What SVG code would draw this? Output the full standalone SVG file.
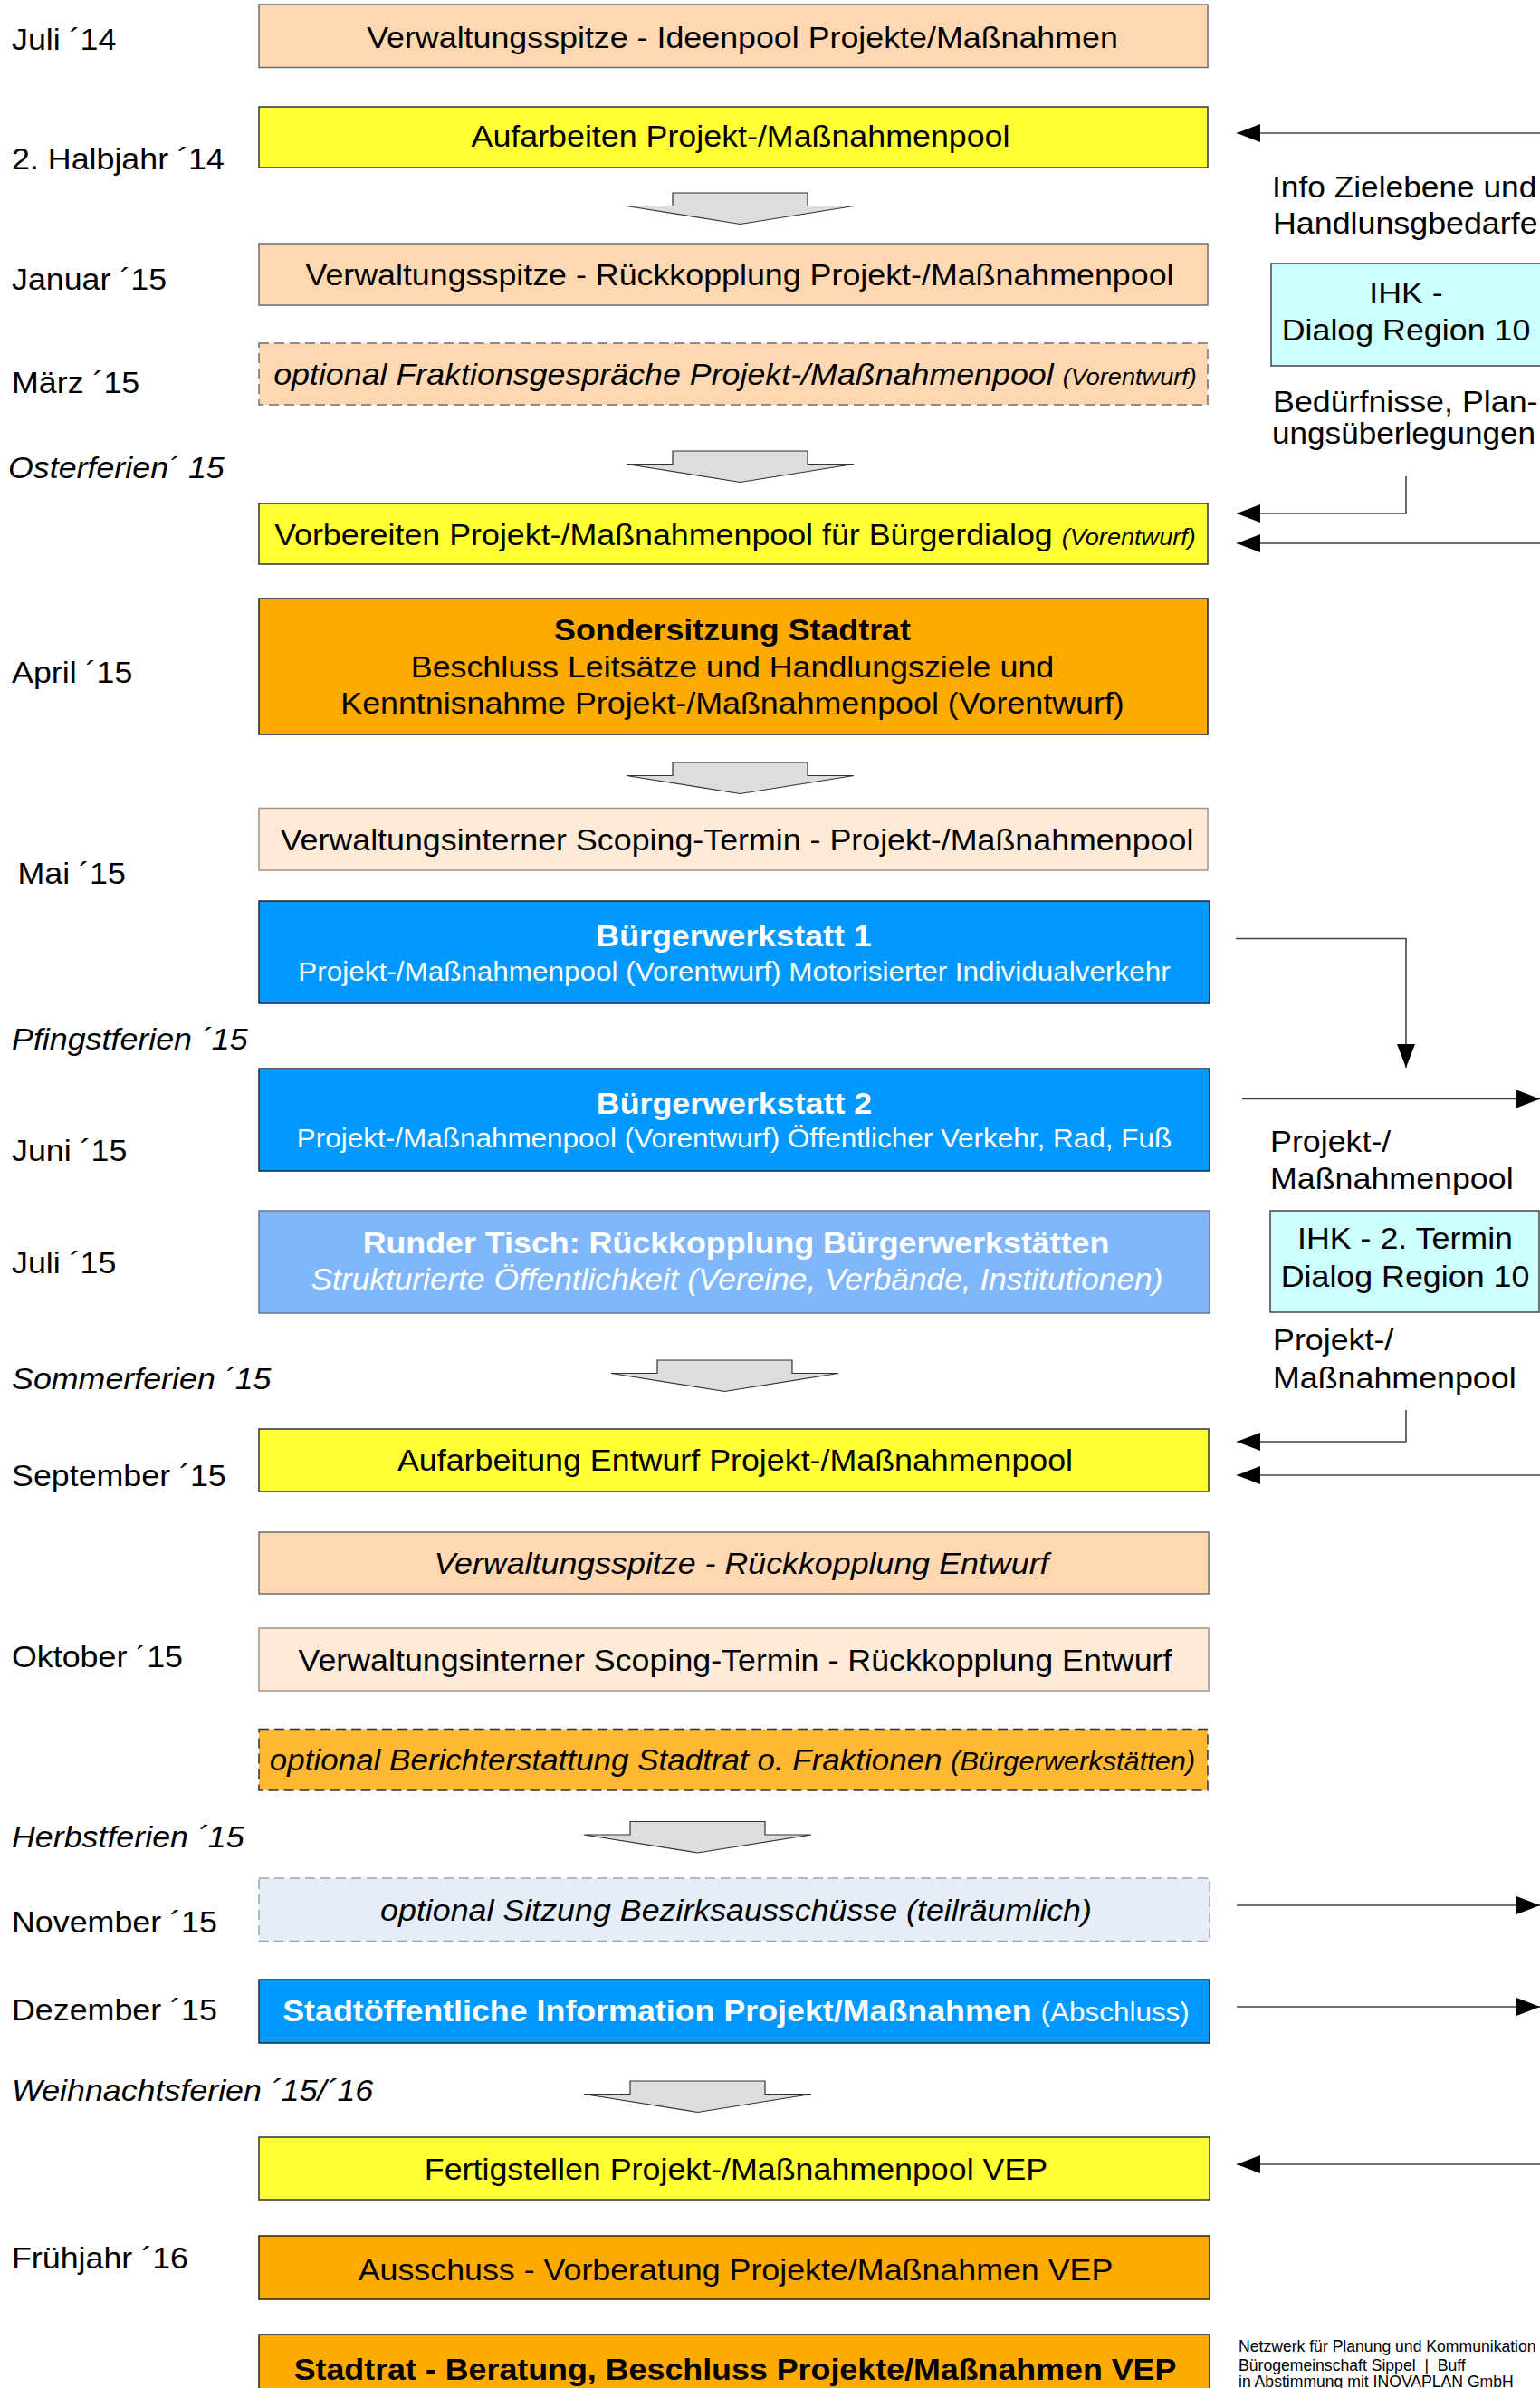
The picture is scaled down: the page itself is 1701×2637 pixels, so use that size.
<svg xmlns="http://www.w3.org/2000/svg" width="1701" height="2637" viewBox="0 0 1701 2637">
<style>
.t{font-family:"Liberation Sans",Arial,Helvetica,sans-serif;font-size:33px;text-anchor:middle;fill:#000}
.l{text-anchor:start}
.i{font-style:italic}
.b{font-weight:bold}
.w{fill:#fff}
.s{font-size:29px}
.xs{font-size:25px}
.ft{font-family:"Liberation Sans",Arial,Helvetica,sans-serif;font-size:17.6px;fill:#000}
.box{stroke-width:1.5}
.peach{fill:#FFD8B1;stroke:#6E6E6E}
.lpeach{fill:#FEEAD6;stroke:#A09488}
.yellow{fill:#FFFF33;stroke:#333}
.orange{fill:#FFAA00;stroke:#222}
.blue{fill:#0099FF;stroke:#1E2A38}
.lblue{fill:#80B7FA;stroke:#6A7888}
.cyan{fill:#CCFFFF;stroke:#444}
.dash{stroke-dasharray:11 6}
.obright{fill:#FFB833;stroke:#333}
.bez{fill:#E4EDF8;stroke:#9AA4B0}
.conn path{fill:none;stroke:#444;stroke-width:1.6;marker-end:url(#ah)}
</style>
<defs>
<marker id="ah" markerWidth="26" markerHeight="20" refX="26" refY="10" orient="auto" markerUnits="userSpaceOnUse"><path d="M0 0L26 10L0 20Z" fill="#000"/></marker>
<path id="dn" d="M-74.5 0H74.5V14.5H125.5L0 34.5L-125.5 14.5H-74.5Z" fill="#DDDDDD" stroke="#333" stroke-width="1.2"/>
</defs>
<rect width="1701" height="2637" fill="#fff"/>

<g id="labels">
<text class="t l" transform="translate(13 55) scale(1.085 1)">Juli ´14</text>
<text class="t l" transform="translate(13 186.5) scale(1.085 1)">2. Halbjahr ´14</text>
<text class="t l" transform="translate(13 320) scale(1.085 1)">Januar ´15</text>
<text class="t l" transform="translate(13 433.5) scale(1.085 1)">März ´15</text>
<text class="t l i" transform="translate(9 528) scale(1.085 1)">Osterferien´ 15</text>
<text class="t l" transform="translate(13 753.5) scale(1.085 1)">April ´15</text>
<text class="t l" transform="translate(19.5 975.5) scale(1.085 1)">Mai ´15</text>
<text class="t l i" transform="translate(13 1158.5) scale(1.085 1)">Pfingstferien ´15</text>
<text class="t l" transform="translate(13 1282) scale(1.085 1)">Juni ´15</text>
<text class="t l" transform="translate(13 1405.5) scale(1.085 1)">Juli ´15</text>
<text class="t l i" transform="translate(13 1534) scale(1.085 1)">Sommerferien ´15</text>
<text class="t l" transform="translate(13 1641) scale(1.085 1)">September ´15</text>
<text class="t l" transform="translate(13 1841) scale(1.085 1)">Oktober ´15</text>
<text class="t l i" transform="translate(13 2040) scale(1.085 1)">Herbstferien ´15</text>
<text class="t l" transform="translate(13 2134) scale(1.085 1)">November ´15</text>
<text class="t l" transform="translate(13 2231) scale(1.085 1)">Dezember ´15</text>
<text class="t l i" transform="translate(13 2320) scale(1.085 1)">Weihnachtsferien ´15/´16</text>
<text class="t l" transform="translate(13 2504.5) scale(1.085 1)">Frühjahr ´16</text>
</g>

<g id="flow-arrows">
<use href="#dn" transform="translate(817.5 213)"/>
<use href="#dn" transform="translate(817.5 498)"/>
<use href="#dn" transform="translate(817.5 842)"/>
<use href="#dn" transform="translate(800.5 1502)"/>
<use href="#dn" transform="translate(770.5 2011.5)"/>
<use href="#dn" transform="translate(770.5 2298)"/>
</g>

<g id="n1"><rect class="box peach" x="286" y="5" width="1048" height="69.5"/>
<text class="t" transform="translate(820 52.5) scale(1.085 1)">Verwaltungsspitze - Ideenpool Projekte/Maßnahmen</text></g>

<g id="n2"><rect class="box yellow" x="286" y="118" width="1048" height="67"/>
<text class="t" transform="translate(818 162) scale(1.085 1)">Aufarbeiten Projekt-/Maßnahmenpool</text></g>

<g id="n3"><rect class="box peach" x="286" y="269" width="1048" height="68"/>
<text class="t" transform="translate(817 315) scale(1.085 1)">Verwaltungsspitze - Rückkopplung Projekt-/Maßnahmenpool</text></g>

<g id="n4"><rect class="box peach dash" x="286" y="379" width="1048" height="68"/>
<text class="t i" transform="translate(812 425) scale(1.085 1)">optional Fraktionsgespräche Projekt-/Maßnahmenpool <tspan class="xs">(Vorentwurf)</tspan></text></g>

<g id="n5"><rect class="box yellow" x="286" y="556" width="1048" height="67"/>
<text class="t" transform="translate(812 601.5) scale(1.085 1)">Vorbereiten Projekt-/Maßnahmenpool für Bürgerdialog <tspan class="xs i">(Vorentwurf)</tspan></text></g>

<g id="n6"><rect class="box orange" x="286" y="661" width="1048" height="150"/>
<text class="t b" transform="translate(809 707) scale(1.085 1)">Sondersitzung Stadtrat</text>
<text class="t" transform="translate(809 747.5) scale(1.085 1)">Beschluss Leitsätze und Handlungsziele und</text>
<text class="t" transform="translate(809 788) scale(1.085 1)">Kenntnisnahme Projekt-/Maßnahmenpool (Vorentwurf)</text></g>

<g id="n7"><rect class="box lpeach" x="286" y="892.5" width="1048" height="68.5"/>
<text class="t" transform="translate(814 939) scale(1.085 1)">Verwaltungsinterner Scoping-Termin - Projekt-/Maßnahmenpool</text></g>

<g id="n8"><rect class="box blue" x="286" y="995" width="1050" height="113"/>
<text class="t b w" transform="translate(810.5 1045) scale(1.085 1)">Bürgerwerkstatt 1</text>
<text class="t s w" transform="translate(811 1082.5) scale(1.085 1)">Projekt-/Maßnahmenpool (Vorentwurf) Motorisierter Individualverkehr</text></g>

<g id="n9"><rect class="box blue" x="286" y="1180" width="1050" height="113"/>
<text class="t b w" transform="translate(811 1229.5) scale(1.085 1)">Bürgerwerkstatt 2</text>
<text class="t s w" transform="translate(811 1267) scale(1.085 1)">Projekt-/Maßnahmenpool (Vorentwurf) Öffentlicher Verkehr, Rad, Fuß</text></g>

<g id="n10"><rect class="box lblue" x="286" y="1337" width="1050" height="113"/>
<text class="t b w" transform="translate(813 1384) scale(1.085 1)">Runder Tisch: Rückkopplung Bürgerwerkstätten</text>
<text class="t i w" transform="translate(814 1424) scale(1.07 1)">Strukturierte Öffentlichkeit (Vereine, Verbände, Institutionen)</text></g>

<g id="n11"><rect class="box yellow" x="286" y="1578" width="1049" height="69"/>
<text class="t" transform="translate(812 1624) scale(1.085 1)">Aufarbeitung Entwurf Projekt-/Maßnahmenpool</text></g>

<g id="n12"><rect class="box peach" x="286" y="1692" width="1049" height="68"/>
<text class="t i" transform="translate(819 1738) scale(1.085 1)">Verwaltungsspitze - Rückkopplung Entwurf</text></g>

<g id="n13"><rect class="box lpeach" x="286" y="1798" width="1049" height="69"/>
<text class="t" transform="translate(812 1844.5) scale(1.085 1)">Verwaltungsinterner Scoping-Termin - Rückkopplung Entwurf</text></g>

<g id="n14"><rect class="box obright dash" x="286" y="1909.5" width="1048" height="67.5"/>
<text class="t i" transform="translate(809 1955) scale(1.06 1)">optional Berichterstattung Stadtrat o. Fraktionen <tspan class="s">(Bürgerwerkstätten)</tspan></text></g>

<g id="n15"><rect class="box bez dash" x="286" y="2074" width="1050" height="69.5"/>
<text class="t i" transform="translate(813 2120.5) scale(1.085 1)">optional Sitzung Bezirksausschüsse (teilräumlich)</text></g>

<g id="n16"><rect class="box blue" x="286" y="2186" width="1050" height="70"/>
<text class="t w" transform="translate(813 2232) scale(1.085 1)"><tspan class="b">Stadtöffentliche Information Projekt/Maßnahmen</tspan> <tspan class="s">(Abschluss)</tspan></text></g>

<g id="n17"><rect class="box yellow" x="286" y="2360" width="1050" height="69"/>
<text class="t" transform="translate(813 2406.5) scale(1.085 1)">Fertigstellen Projekt-/Maßnahmenpool VEP</text></g>

<g id="n18"><rect class="box orange" x="286" y="2469" width="1050" height="70"/>
<text class="t" transform="translate(812.5 2518) scale(1.085 1)">Ausschuss - Vorberatung Projekte/Maßnahmen VEP</text></g>

<g id="n19"><rect class="box orange" x="286" y="2578" width="1050" height="90"/>
<text class="t b" transform="translate(812 2628) scale(1.085 1)">Stadtrat - Beratung, Beschluss Projekte/Maßnahmen VEP</text></g>

<g id="ihk1"><rect class="box cyan" x="1404" y="291" width="300" height="113"/>
<text class="t" transform="translate(1553 335) scale(1.085 1)">IHK -</text>
<text class="t" transform="translate(1553 376) scale(1.085 1)">Dialog Region 10</text></g>

<g id="ihk2"><rect class="box cyan" x="1403" y="1337" width="297" height="112"/>
<text class="t" transform="translate(1552 1379) scale(1.085 1)">IHK - 2. Termin</text>
<text class="t" transform="translate(1552 1421) scale(1.085 1)">Dialog Region 10</text></g>

<g id="conn-labels">
<text class="t l" transform="translate(1405 218) scale(1.07 1)">Info Zielebene und</text>
<text class="t l" transform="translate(1406 258) scale(1.085 1)">Handlunsgbedarfe</text>
<text class="t l" transform="translate(1406 455) scale(1.085 1)">Bedürfnisse, Plan-</text>
<text class="t l" transform="translate(1405 490) scale(1.065 1)">ungsüberlegungen</text>
<text class="t l" transform="translate(1403 1272) scale(1.085 1)">Projekt-/</text>
<text class="t l" transform="translate(1403 1313) scale(1.085 1)">Maßnahmenpool</text>
<text class="t l" transform="translate(1406 1491) scale(1.085 1)">Projekt-/</text>
<text class="t l" transform="translate(1406 1533) scale(1.085 1)">Maßnahmenpool</text>
</g>

<g id="connectors" class="conn">
<path d="M1701 147H1366"/>
<path d="M1553 526V567H1366"/>
<path d="M1701 600H1366"/>
<path d="M1365 1036.5H1553V1179"/>
<path d="M1372 1213.5H1701"/>
<path d="M1553 1557V1592H1366"/>
<path d="M1701 1629H1366"/>
<path d="M1366 2104H1701"/>
<path d="M1366 2216H1701"/>
<path d="M1701 2390H1366"/>
</g>

<g id="footer">
<text class="ft" x="1368" y="2597">Netzwerk für Planung und Kommunikation</text>
<text class="ft" x="1368" y="2618">Bürogemeinschaft Sippel&#160;&#160;|&#160;&#160;Buff</text>
<text class="ft" x="1368" y="2636">in Abstimmung mit INOVAPLAN GmbH</text>
</g>
</svg>
